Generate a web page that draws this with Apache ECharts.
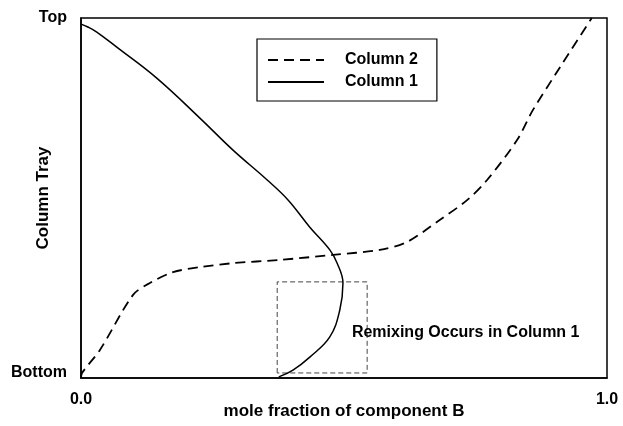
<!DOCTYPE html>
<html><head><meta charset="utf-8">
<script src="https://cdn.jsdelivr.net/npm/echarts@6/dist/echarts.min.js"></script>
<style>html,body{margin:0;padding:0;background:#fff}#c{width:623px;height:426px}</style>
</head><body><div id="c"></div>
<script>
// Column 1 (solid) : [mole fraction, tray position 0=bottom..1=top]
const column1X = [0.000,0.013,0.030,0.068,0.144,0.226,0.289,0.354,0.394,0.435,0.473,0.487,0.498,0.492,0.473,0.435,0.403,0.376];
const column1Y = [0.983,0.975,0.961,0.919,0.833,0.722,0.633,0.550,0.494,0.419,0.356,0.319,0.264,0.189,0.114,0.058,0.022,0.003];
// Column 2 (dashed)
const column2X = [0.000,0.002,0.036,0.099,0.131,0.175,0.226,0.289,0.378,0.479,0.568,0.620,0.682,0.734,0.772,0.829,0.859,0.911,0.971];
const column2Y = [0.000,0.014,0.078,0.231,0.264,0.294,0.308,0.319,0.328,0.342,0.356,0.378,0.439,0.494,0.550,0.661,0.744,0.864,1.000];
// Remixing region box
const boxX = [0.373,0.544];
const boxY = [0.014,0.267];
const yTickLabels = {0:'Bottom',1:'Top'};
const annotation = {x:0.515, y:0.125, text:'Remixing Occurs in Column 1'};

const FONT = '"Liberation Sans", Arial, Helvetica, sans-serif';
const zip = (a,b)=>a.map((v,i)=>[v,b[i]]);
const boxData = [[boxX[0],boxY[0]],[boxX[0],boxY[1]],[boxX[1],boxY[1]],[boxX[1],boxY[0]],[boxX[0],boxY[0]]];

const chart = echarts.init(document.getElementById('c'), null, {renderer:'canvas'});
chart.setOption({
  animation:false,
  backgroundColor:'#fff',
  grid:{left:81,right:16,top:18,bottom:48,containLabel:false,outerBoundsMode:'none',show:true,borderColor:'#000',borderWidth:1.5},
  legend:{
    orient:'vertical', left:257, top:39,
    data:['Column 2','Column 1'],
    itemWidth:56, itemHeight:14, itemGap:6,
    padding:[13,19,11,10],
    borderColor:'#000', borderWidth:1.2, borderRadius:0,
    itemStyle:{opacity:0},
    textStyle:{fontFamily:FONT,fontWeight:'bold',fontSize:16,color:'#000',padding:[0,0,0,16]}
  },
  xAxis:{
    type:'value', min:0, max:1, interval:1,
    name:'mole fraction of component B', nameLocation:'middle', nameGap:25, nameMoveOverlap:false,
    nameTextStyle:{fontFamily:FONT,fontWeight:'bold',fontSize:17,color:'#000'},
    axisLine:{show:true,onZero:false,lineStyle:{color:'#000',width:1.5}},
    axisTick:{show:false}, splitLine:{show:false},
    axisLabel:{fontFamily:FONT,fontWeight:'bold',fontSize:16,color:'#000',margin:14,formatter:v=>v.toFixed(1)}
  },
  yAxis:{
    type:'value', min:0, max:1, interval:1,
    name:'Column Tray', nameLocation:'middle', nameGap:29, nameRotate:90, nameMoveOverlap:false,
    nameTextStyle:{fontFamily:FONT,fontWeight:'bold',fontSize:17,color:'#000'},
    axisLine:{show:true,onZero:false,lineStyle:{color:'#000',width:1.5}},
    axisTick:{show:false}, splitLine:{show:false},
    axisLabel:{fontFamily:FONT,fontWeight:'bold',fontSize:16,color:'#000',margin:14,
      formatter:v=>v===0?'{b|'+yTickLabels[0]+'}':(yTickLabels[v]||''),
      rich:{b:{fontFamily:FONT,fontWeight:'bold',fontSize:16,color:'#000',padding:[0,0,10,0]}}}
  },
  series:[
    {name:'Column 2',type:'line',data:zip(column2X,column2Y),symbol:'none',smooth:0.3,
     lineStyle:{color:'#000',width:1.8,type:[10,6]},itemStyle:{color:'#000'},z:3},
    {name:'Column 1',type:'line',data:zip(column1X,column1Y),symbol:'none',smooth:0.4,
     lineStyle:{color:'#000',width:1.5,type:'solid'},itemStyle:{color:'#000'},z:3},
    {name:'box',type:'line',data:boxData,symbol:'none',silent:true,
     lineStyle:{color:'#444',width:1,type:[5,3]},z:2},
    {name:'note',type:'scatter',data:[[annotation.x,annotation.y]],symbolSize:0,silent:true,
     itemStyle:{color:'#000',opacity:1},
     label:{show:true,position:'right',distance:0,formatter:annotation.text,
       fontFamily:FONT,fontWeight:'bold',fontSize:16,color:'#000',opacity:1,align:'left',verticalAlign:'middle'}}
  ]
});
</script></body></html>
